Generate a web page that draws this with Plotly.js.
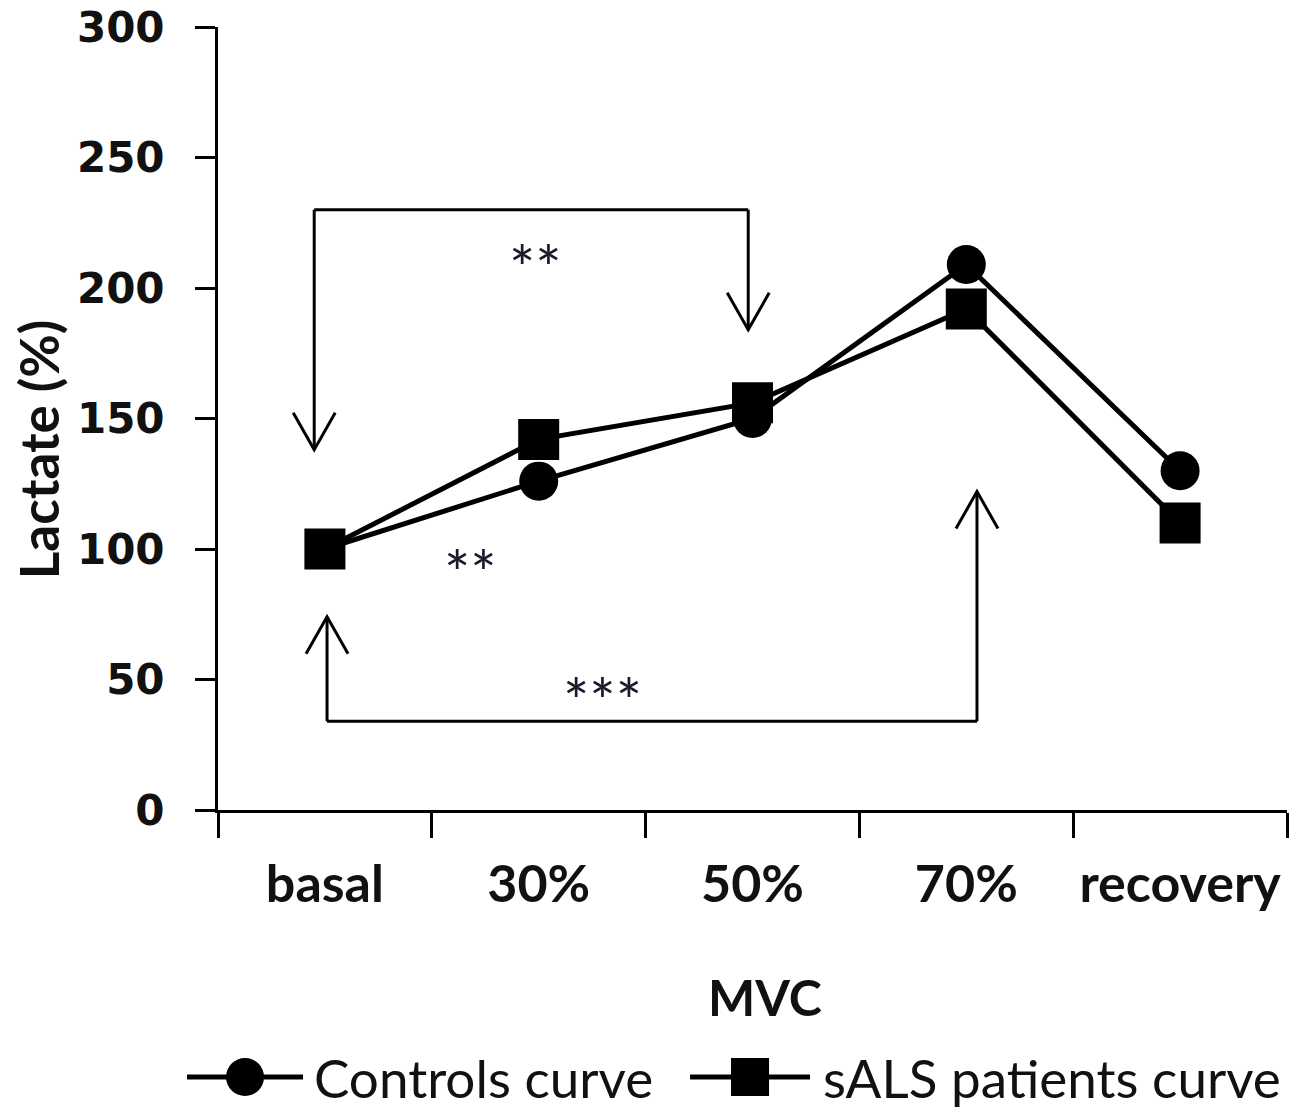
<!DOCTYPE html>
<html>
<head>
<meta charset="utf-8">
<script src="https://cdn.plot.ly/plotly-3.0.1.min.js"></script>
<style>
  html, body { margin: 0; padding: 0; background: #fff; }
  #chart { width: 1300px; height: 1111px; }
</style>
</head>
<body>
<div id="chart"></div>
<script>
// --- data ---
const categories = ['basal', '30%', '50%', '70%', 'recovery'];
const controls = [100, 126, 150, 209, 130];
const sals = [100, 142, 156, 192, 110];
const seriesNames = ['Controls curve', 'sALS patients curve'];
const yTicks = [0, 50, 100, 150, 200, 250, 300];
const xTitle = 'MVC';
const yTitle = 'Lactate (%)';

// significance brackets (annotation layout, in axis units)
const brackets = [
  { x0: -0.05, x1: 1.98, yBar: 230, yTip0: 138, yTip1: 184, dir: 'down', label: '**', lx: 0.985, ly: 208 },
  { x0: 0.01, x1: 3.05, yBar: 34, yTip0: 74, yTip1: 122, dir: 'up', label: '***', lx: 1.3, ly: 42 }
];
const midStar = { label: '**', lx: 0.68, ly: 91 };

(function(){
  const black = '#000';
  const traces = [
    { type: 'scatter', mode: 'lines+markers', name: seriesNames[0], x: categories, y: controls,
      line: { color: black, width: 5 }, marker: { symbol: 'circle', size: 39, color: black } },
    { type: 'scatter', mode: 'lines+markers', name: seriesNames[1], x: categories, y: sals,
      line: { color: black, width: 5 }, marker: { symbol: 'square', size: 41, color: black } }
  ];

  const shapes = [];
  const annotations = [];
  const lineStyle = { color: black, width: 3 };
  const starFont = { family: 'Lato', size: 62, color: '#1a1a2a' };
  function arrowHead(x, y, dir){
    const s = dir === 'down' ? 37 : -37;
    shapes.push({ type: 'path', xref: 'x', yref: 'y', xsizemode: 'pixel', ysizemode: 'pixel',
      xanchor: x, yanchor: y, path: 'M-21,' + s + 'L0,0L21,' + s, line: lineStyle });
  }
  brackets.forEach(function(b){
    shapes.push({ type: 'line', xref: 'x', yref: 'y', x0: b.x0, x1: b.x0, y0: b.yTip0, y1: b.yBar, line: lineStyle });
    shapes.push({ type: 'line', xref: 'x', yref: 'y', x0: b.x0, x1: b.x1, y0: b.yBar, y1: b.yBar, line: lineStyle });
    shapes.push({ type: 'line', xref: 'x', yref: 'y', x0: b.x1, x1: b.x1, y0: b.yBar, y1: b.yTip1, line: lineStyle });
    arrowHead(b.x0, b.yTip0, b.dir);
    arrowHead(b.x1, b.yTip1, b.dir);
    annotations.push({ xref: 'x', yref: 'y', x: b.lx, y: b.ly, text: b.label, showarrow: false, font: starFont });
  });
  annotations.push({ xref: 'x', yref: 'y', x: midStar.lx, y: midStar.ly, text: midStar.label, showarrow: false, font: starFont });

  // axis titles placed as in the figure
  annotations.push({ xref: 'paper', yref: 'paper', x: 0.512, y: -0.239, text: xTitle, showarrow: false,
    xanchor: 'center', yanchor: 'middle', font: { family: 'Lato', size: 50, weight: 700, color: '#111' } });
  annotations.push({ xref: 'paper', yref: 'paper', x: -0.168, y: 0.46, text: yTitle, showarrow: false, textangle: -90,
    xanchor: 'center', yanchor: 'middle', font: { family: 'Lato', size: 53, weight: 700, color: '#111' } });

  // custom legend (long line + full-size marker, as in the figure)
  const legY = -0.341;
  const legItems = [
    { cx: 0.0253, half: 58, symbol: 'circle', tx: 0.0880 },
    { cx: 0.4977, half: 60, symbol: 'square', tx: 0.5640 }
  ];
  legItems.forEach(function(it, i){
    shapes.push({ type: 'line', xref: 'paper', yref: 'paper', xsizemode: 'pixel', ysizemode: 'pixel',
      xanchor: it.cx, yanchor: legY, x0: -it.half, x1: it.half, y0: 0, y1: 0, line: { color: black, width: 5 } });
    shapes.push({ type: it.symbol === 'circle' ? 'circle' : 'rect', xref: 'paper', yref: 'paper',
      xsizemode: 'pixel', ysizemode: 'pixel', xanchor: it.cx, yanchor: legY,
      x0: -19, x1: 19, y0: -19, y1: 19, fillcolor: black, line: { width: 0 } });
    annotations.push({ xref: 'paper', yref: 'paper', x: it.tx, y: legY, xanchor: 'left', yanchor: 'middle',
      text: seriesNames[i], showarrow: false, font: { family: 'Lato', size: 53, color: '#111' } });
  });

  const layout = {
    width: 1300, height: 1111,
    margin: { l: 218, r: 13, t: 27, b: 301 },
    paper_bgcolor: '#fff', plot_bgcolor: '#fff',
    showlegend: false,
    xaxis: {
      type: 'category', categoryorder: 'array', categoryarray: categories,
      range: [-0.5, 4.5], tickson: 'boundaries', tickangle: 0,
      ticks: 'outside', ticklen: 25, tickwidth: 3, tickcolor: black,
      showline: true, linewidth: 3, linecolor: black, showgrid: false, zeroline: false,
      ticklabelstandoff: 27, ticklabeloverflow: 'allow',
      tickfont: { family: 'Lato', size: 52, weight: 700, color: '#111' }
    },
    yaxis: {
      range: [0, 300], tickvals: yTicks,
      ticks: 'outside', ticklen: 20, tickwidth: 3, tickcolor: black,
      showline: true, linewidth: 3, linecolor: black, showgrid: false, zeroline: false,
      ticklabelstandoff: 22, ticklabeloverflow: 'allow',
      tickfont: { family: 'DejaVu Sans', size: 42, weight: 700, color: '#111' }
    },
    shapes: shapes,
    annotations: annotations
  };

  Plotly.newPlot('chart', traces, layout, { displayModeBar: false, responsive: false });
})();
</script>
</body>
</html>
